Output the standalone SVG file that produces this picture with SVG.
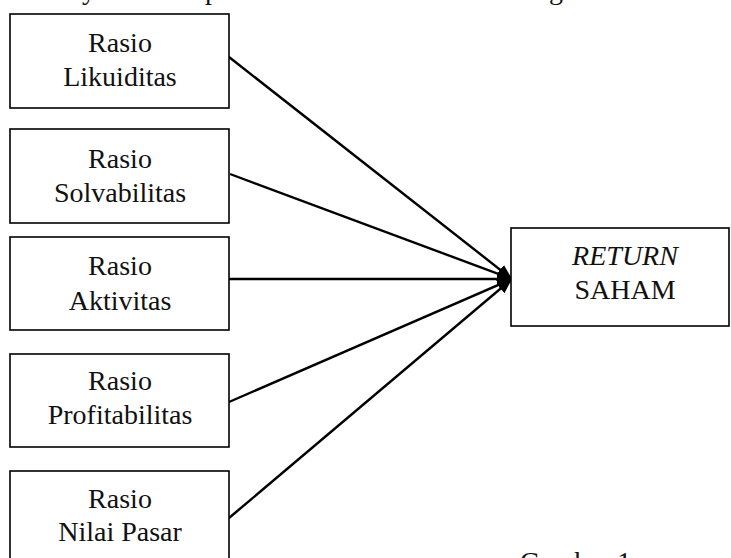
<svg xmlns="http://www.w3.org/2000/svg" width="731" height="558" viewBox="0 0 731 558">
<style>
  .box { fill: #ffffff; stroke: #000000; stroke-width: 1.6; }
  .lbl { font-family: "Liberation Serif", "DejaVu Serif", serif; font-size: 28px; fill: #111111; text-anchor: middle; }
  .frag { font-family: "Liberation Serif", "DejaVu Serif", serif; font-size: 28px; fill: #111111; }
  .conn { stroke: #000000; stroke-width: 2.4; fill: none; marker-end: url(#arrow); }
</style>
<defs>
  <marker id="arrow" markerUnits="userSpaceOnUse" markerWidth="16" markerHeight="12" refX="15" refY="6" orient="auto">
    <path d="M0,0 L15,6 L0,12 Z" fill="#000000"/>
  </marker>
</defs>
<rect width="731" height="558" fill="#ffffff"/>
<g id="page-fragments">
  <text class="frag" x="82" y="-1">y</text>
  <text class="frag" x="205" y="-1">p</text>
  <text class="frag" x="549" y="-1">g</text>
  <text class="frag" x="520" y="571">Gambar 1</text>
</g>
<g id="connectors">
  <line class="conn" x1="229" y1="57" x2="512" y2="279"/>
  <line class="conn" x1="230" y1="174" x2="512" y2="279"/>
  <line class="conn" x1="229" y1="279" x2="512" y2="279"/>
  <line class="conn" x1="229" y1="402" x2="512" y2="279"/>
  <line class="conn" x1="229" y1="518" x2="512" y2="279"/>
</g>
<g id="node-likuiditas">
  <rect class="box" x="10" y="14" width="219" height="94"/>
  <text class="lbl" x="120" y="52">Rasio</text>
  <text class="lbl" x="120" y="86">Likuiditas</text>
</g>
<g id="node-solvabilitas">
  <rect class="box" x="10" y="129" width="219" height="94"/>
  <text class="lbl" x="120" y="168">Rasio</text>
  <text class="lbl" x="120" y="202">Solvabilitas</text>
</g>
<g id="node-aktivitas">
  <rect class="box" x="10" y="237" width="219" height="93"/>
  <text class="lbl" x="120" y="275">Rasio</text>
  <text class="lbl" x="120" y="310">Aktivitas</text>
</g>
<g id="node-profitabilitas">
  <rect class="box" x="10" y="354" width="219" height="93"/>
  <text class="lbl" x="120" y="390">Rasio</text>
  <text class="lbl" x="120" y="424">Profitabilitas</text>
</g>
<g id="node-nilai-pasar">
  <rect class="box" x="10" y="471" width="219" height="120"/>
  <text class="lbl" x="120" y="508">Rasio</text>
  <text class="lbl" x="120" y="541">Nilai Pasar</text>
</g>
<g id="node-return-saham">
  <rect class="box" x="511" y="228" width="218" height="98"/>
  <text class="lbl" x="625" y="265" font-style="italic">RETURN</text>
  <text class="lbl" x="625" y="299">SAHAM</text>
</g>
</svg>
